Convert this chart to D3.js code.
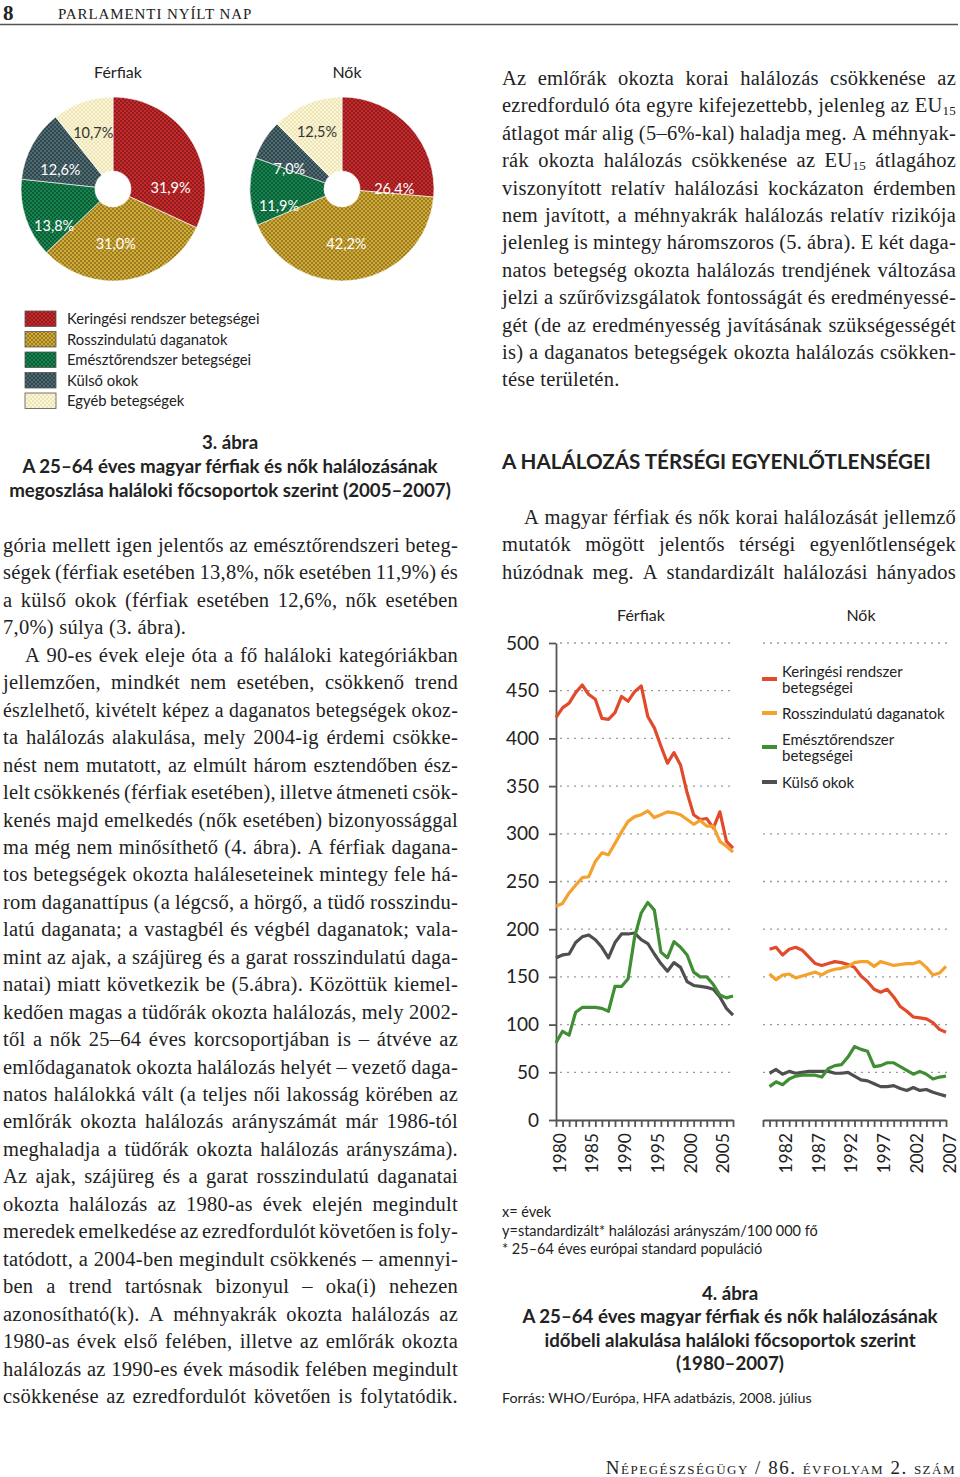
<!DOCTYPE html>
<html>
<head>
<meta charset="utf-8">
<script src="https://cdn.jsdelivr.net/npm/d3@7"></script>
<style>
  html, body { margin: 0; padding: 0; background: #fff; }
  svg { display: block; }
</style>
</head>
<body>
<div id="page"></div>
<script>
// ---- pie data (3. ábra) ----
const pieCategories = ["Keringési rendszer betegségei", "Rosszindulatú daganatok", "Emésztőrendszer betegségei", "Külső okok", "Egyéb betegségek"];
const pieMen = [31.9, 31.0, 13.8, 12.6, 10.7];
const pieWomen = [26.4, 42.2, 11.9, 7.0, 12.5];

// ---- line data (4. ábra), per 100 000 ----
const years = [1980, 1981, 1982, 1983, 1984, 1985, 1986, 1987, 1988, 1989, 1990, 1991, 1992, 1993,
  1994, 1995, 1996, 1997, 1998, 1999, 2000, 2001, 2002, 2003, 2004, 2005, 2006, 2007];
const menCirc = [422, 432, 437, 448, 456, 446, 441, 421, 420, 427, 444, 439, 449, 455, 423, 411, 392, 374, 385, 372, 343, 320, 315, 316, 306, 323, 292, 285];
const menCancer = [224, 227, 238, 246, 254, 255, 271, 280, 278, 290, 302, 313, 318, 320, 324, 317, 320, 323, 322, 320, 315, 310, 314, 308, 308, 292, 287, 281];
const menDigest = [81, 93, 89, 113, 118, 118, 118, 117, 114, 140, 140, 148, 192, 217, 228, 220, 176, 170, 187, 181, 173, 155, 150, 150, 142, 131, 128, 130];
const menExternal = [170, 173, 174, 186, 192, 194, 189, 181, 170, 186, 195, 195, 196, 189, 185, 174, 164, 156, 165, 160, 145, 141, 140, 139, 137, 129, 117, 110];
const womenCirc = [179, 181, 173, 179, 181, 178, 171, 164, 162, 164, 166, 165, 163, 160, 151, 145, 137, 134, 137, 129, 119, 114, 108, 107, 106, 102, 95, 92];
const womenCancer = [153, 147, 152, 153, 149, 151, 153, 155, 152, 156, 158, 159, 161, 165, 166, 166, 161, 166, 164, 162, 163, 164, 164, 166, 160, 152, 154, 161];
const womenDigest = [35, 40, 37, 43, 46, 47, 47, 47, 45, 54, 57, 58, 66, 77, 74, 72, 56, 57, 60, 60, 56, 52, 48, 51, 48, 43, 45, 46];
const womenExternal = [49, 53, 48, 51, 49, 50, 51, 51, 51, 51, 49, 49, 50, 46, 42, 41, 38, 35, 35, 36, 33, 31, 34, 31, 32, 29, 27, 25];

const yTicks = [0, 50, 100, 150, 200, 250, 300, 350, 400, 450, 500];
const menYearLabels = [1980, 1985, 1990, 1995, 2000, 2005];
const womenYearLabels = [1982, 1987, 1992, 1997, 2002, 2007];
const womenAxisYears = [1979].concat(years);
const womenGrid = [50, 100, 150, 200, 250, 300, 500];
const lineLegend = [["Keringési rendszer", "betegségei"], ["Rosszindulatú daganatok"], ["Emésztőrendszer", "betegségei"], ["Külső okok"]];

// ---- page text ----
const leftColumn = [
  "gória mellett igen jelentős az emésztőrendszeri beteg-",
  "ségek (férfiak esetében 13,8%, nők esetében 11,9%) és",
  "a külső okok (férfiak esetében 12,6%, nők esetében",
  "7,0%) súlya (3. ábra).",
  "A 90-es évek eleje óta a fő haláloki kategóriákban",
  "jellemzően, mindkét nem esetében, csökkenő trend",
  "észlelhető, kivételt képez a daganatos betegségek okoz-",
  "ta halálozás alakulása, mely 2004-ig érdemi csökke-",
  "nést nem mutatott, az elmúlt három esztendőben ész-",
  "lelt csökkenés (férfiak esetében), illetve átmeneti csök-",
  "kenés majd emelkedés (nők esetében) bizonyossággal",
  "ma még nem minősíthető (4. ábra). A férfiak dagana-",
  "tos betegségek okozta haláleseteinek mintegy fele há-",
  "rom daganattípus (a légcső, a hörgő, a tüdő rosszindu-",
  "latú daganata; a vastagbél és végbél daganatok; vala-",
  "mint az ajak, a szájüreg és a garat rosszindulatú daga-",
  "natai) miatt következik be (5.ábra). Közöttük kiemel-",
  "kedően magas a tüdőrák okozta halálozás, mely 2002-",
  "től a nők 25–64 éves korcsoportjában is – átvéve az",
  "emlődaganatok okozta halálozás helyét – vezető daga-",
  "natos halálokká vált (a teljes női lakosság körében az",
  "emlőrák okozta halálozás arányszámát már 1986-tól",
  "meghaladja a tüdőrák okozta halálozás arányszáma).",
  "Az ajak, szájüreg és a garat rosszindulatú daganatai",
  "okozta halálozás az 1980-as évek elején megindult",
  "meredek emelkedése az ezredfordulót követően is foly-",
  "tatódott, a 2004-ben megindult csökkenés – amennyi-",
  "ben a trend tartósnak bizonyul – oka(i) nehezen",
  "azonosítható(k). A méhnyakrák okozta halálozás az",
  "1980-as évek első felében, illetve az emlőrák okozta",
  "halálozás az 1990-es évek második felében megindult",
  "csökkenése az ezredfordulót követően is folytatódik."
];
const rightColumn = [
  "Az emlőrák okozta korai halálozás csökkenése az",
  "ezredforduló óta egyre kifejezettebb, jelenleg az EU§15",
  "átlagot már alig (5–6%-kal) haladja meg. A méhnyak-",
  "rák okozta halálozás csökkenése az EU§15§ átlagához",
  "viszonyított relatív halálozási kockázaton érdemben",
  "nem javított, a méhnyakrák halálozás relatív rizikója",
  "jelenleg is mintegy háromszoros (5. ábra). E két daga-",
  "natos betegség okozta halálozás trendjének változása",
  "jelzi a szűrővizsgálatok fontosságát és eredményessé-",
  "gét (de az eredményesség javításának szükségességét",
  "is) a daganatos betegségek okozta halálozás csökken-",
  "tése területén."
];
const introLines = [
  "A magyar férfiak és nők korai halálozását jellemző",
  "mutatók mögött jelentős térségi egyenlőtlenségek",
  "húzódnak meg. A standardizált halálozási hányados"
];

const W = 960, H = 1477;
const sans = "Lato, 'Open Sans', sans-serif";
const serif = "'Liberation Serif', 'DejaVu Serif', serif";

const svg = d3.select("#page").append("svg").attr("width", W).attr("height", H)
  .style("font-family", sans);

// "EU§15" -> EU with a subscript 15
function fillParts(sel, str, state) {
  str.split("§").forEach((part, i) => {
    if (part === "") return;
    const c = sel.append("tspan").text(part);
    if (i % 2 === 1) { c.attr("font-size", 13).attr("dy", 3); state.shifted = true; }
    else if (state.shifted) { c.attr("dy", -3); state.shifted = false; }
  });
}

// width of one word, measured with a throwaway text element
function wordWidth(g, w) {
  const tmp = g.append("text").attr("x", 0).attr("y", -50);
  fillParts(tmp, w, { shifted: false });
  const len = tmp.node().getComputedTextLength();
  tmp.remove();
  return len;
}

// one line of body text; justified lines get every word placed by hand
function textLine(g, str, x, y, width, justify) {
  const t = g.append("text").attr("x", x).attr("y", y);
  if (!justify) {
    fillParts(t, str, { shifted: false });
    return t;
  }
  const words = str.split(" ");
  const widths = words.map((w) => wordWidth(g, w));
  const gap = (width - d3.sum(widths)) / Math.max(1, words.length - 1);
  if (gap < 3) {
    // line is too full: keep normal spaces and squeeze the glyphs a little
    fillParts(t, str, { shifted: false });
    t.attr("textLength", width).attr("lengthAdjust", "spacingAndGlyphs");
    return t;
  }
  const state = { shifted: false };
  let cx = x;
  words.forEach((w, i) => {
    const sp = t.append("tspan").attr("x", cx);
    fillParts(sp, w, state);
    cx += widths[i] + gap;
  });
  return t;
}

// ---- header / footer ----
svg.append("text").attr("x", 3).attr("y", 20).attr("font-family", serif)
  .attr("font-size", 21).attr("font-weight", "bold").attr("fill", "#222").text("8");
svg.append("text").attr("x", 58).attr("y", 19).attr("font-family", serif)
  .attr("font-size", 15).attr("letter-spacing", 0.9)
  .attr("fill", "#222").text("PARLAMENTI NYÍLT NAP");
svg.append("line").attr("x1", 0).attr("x2", 958).attr("y1", 24.5).attr("y2", 24.5)
  .attr("stroke", "#555").attr("stroke-width", 1.6);
svg.append("text").attr("x", 956).attr("y", 1474).attr("text-anchor", "end").attr("font-family", serif)
  .attr("font-size", 19).style("font-variant", "small-caps").attr("letter-spacing", 1.5)
  .attr("fill", "#222").text("Népegészségügy / 86. évfolyam 2. szám");

// ---- pie charts ----
const pieFill = [
  { base: "#c8292b", hatch: "#801a1c" },
  { base: "#d2ab36", hatch: "#8c7020" },
  { base: "#17854f", hatch: "#0b5230" },
  { base: "#4f6b72", hatch: "#2a3e44" },
  { base: "#fbf6d4", hatch: "#d6c98a" }
];
const defs = svg.append("defs");
pieFill.forEach((c, i) => {
  const p = defs.append("pattern").attr("id", "pat" + i).attr("patternUnits", "userSpaceOnUse")
    .attr("width", 4).attr("height", 4);
  p.append("rect").attr("width", 4).attr("height", 4).attr("fill", c.base);
  if (i === 4) {
    p.append("circle").attr("cx", 1).attr("cy", 1).attr("r", 0.7).attr("fill", c.hatch);
    p.append("circle").attr("cx", 3).attr("cy", 3).attr("r", 0.7).attr("fill", c.hatch);
  } else {
    p.append("path").attr("d", "M0,0L4,4M4,0L0,4").attr("stroke", c.hatch).attr("stroke-width", 0.8);
  }
});

const pie = d3.pie().sort(null).value((d) => d);
const arc = d3.arc().innerRadius(18).outerRadius(92);
const labelArc = d3.arc().innerRadius(60).outerRadius(60);
const menNudge = [[7, 31], [-7, -5], [-2, 17], [0, 9], [0, 0]];
const womenNudge = [[8, 40], [-5, -5], [-3, 15], [-2, 12], [-2, -2]];

function drawPie(values, cx, title, nudge) {
  const g = svg.append("g").attr("transform", `translate(${cx},189)`);
  svg.append("text").attr("x", cx + 5).attr("y", 78).attr("text-anchor", "middle")
    .attr("font-size", 16).attr("fill", "#222").text(title);
  const slices = pie(values);
  g.selectAll("path").data(slices).enter().append("path")
    .attr("d", arc)
    .attr("fill", (d, i) => `url(#pat${i})`)
    .attr("stroke", "#fff").attr("stroke-width", 0.6);
  g.selectAll("text").data(slices).enter().append("text")
    .attr("transform", (d, i) => {
      const c = labelArc.centroid(d);
      return `translate(${c[0] + nudge[i][0]},${c[1] + nudge[i][1]})`;
    })
    .attr("text-anchor", "middle").attr("dominant-baseline", "central")
    .attr("font-size", 14.5)
    .attr("fill", (d, i) => (i === 4 ? "#333" : "#fff"))
    .text((d) => d3.format(".1f")(d.data).replace(".", ",") + "%");
}
drawPie(pieMen, 113, "Férfiak", menNudge);
drawPie(pieWomen, 342, "Nők", womenNudge);

const pieLegend = svg.append("g");
pieCategories.forEach((name, i) => {
  const y = 311 + i * 20.5;
  pieLegend.append("rect").attr("x", 25).attr("y", y).attr("width", 31).attr("height", 15.5)
    .attr("fill", `url(#pat${i})`).attr("stroke", "#555").attr("stroke-width", 0.8);
  pieLegend.append("text").attr("x", 67).attr("y", y + 13).attr("font-size", 14.8)
    .attr("fill", "#222").text(name);
});

// caption 3. ábra
const cap3 = ["3. ábra", "A 25–64 éves magyar férfiak és nők halálozásának", "megoszlása haláloki főcsoportok szerint (2005–2007)"];
cap3.forEach((s, i) => {
  svg.append("text").attr("x", 230).attr("y", 449 + i * 24).attr("text-anchor", "middle")
    .attr("font-size", 18.7).attr("font-weight", "bold").attr("fill", "#222").text(s);
});

// ---- body text ----
const body = svg.append("g").attr("font-family", serif).attr("font-size", 20.5)
  .attr("letter-spacing", 0.25).attr("fill", "#222");
leftColumn.forEach((s, i) => {
  const indent = i === 4 ? 22 : 0;
  textLine(body, s, 3 + indent, 552 + i * 27.45, 455 - indent, i !== 3);
});
rightColumn.forEach((s, i) => {
  textLine(body, s, 502, 85 + i * 27.4, 454, i !== rightColumn.length - 1);
});
introLines.forEach((s, i) => {
  const indent = i === 0 ? 22 : 0;
  textLine(body, s, 502 + indent, 524 + i * 27.4, 454 - indent, true);
});
svg.append("text").attr("x", 502).attr("y", 469).attr("font-size", 20.6).attr("font-weight", "bold")
  .attr("fill", "#222").text("A HALÁLOZÁS TÉRSÉGI EGYENLŐTLENSÉGEI");

// ---- line charts (4. ábra) ----
const y = d3.scaleLinear().domain([0, 500]).range([1120, 643]);
const xMen = d3.scaleLinear().domain([1980, 2007]).range([556, 733]);
const xWomen = d3.scaleLinear().domain([1979, 2007]).range([763, 946]);
const lineColors = ["#e14a2a", "#f4a12e", "#3f8e34", "#4f4f4f"];
const chart = svg.append("g");

// gridlines
chart.selectAll(".gm").data(yTicks.slice(1)).enter().append("line")
  .attr("x1", 560).attr("x2", 735).attr("y1", (d) => y(d)).attr("y2", (d) => y(d))
  .attr("stroke", "#9a9a9a").attr("stroke-width", 1.3).attr("stroke-dasharray", "2,5");
chart.selectAll(".gw").data(womenGrid).enter().append("line")
  .attr("x1", 763).attr("x2", 950).attr("y1", (d) => y(d)).attr("y2", (d) => y(d))
  .attr("stroke", "#9a9a9a").attr("stroke-width", 1.3).attr("stroke-dasharray", "2,5");

// axes
const yAxis = chart.append("g").attr("transform", "translate(556,0)")
  .call(d3.axisLeft(y).tickValues(yTicks).tickSize(7).tickSizeOuter(0).tickPadding(10));
yAxis.selectAll("text").attr("font-size", 19).attr("font-family", sans).attr("fill", "#222");

function xAxis(scale, tickYears, labelYears) {
  const g = chart.append("g").attr("transform", "translate(0,1120)")
    .call(d3.axisBottom(scale).tickValues(tickYears).tickSize(7).tickSizeOuter(0).tickFormat(""));
  g.selectAll("text").remove();
  chart.selectAll(null).data(labelYears).enter().append("text")
    .attr("transform", (d) => `translate(${scale(d) + 3},1133) rotate(-90)`)
    .attr("text-anchor", "end").attr("dominant-baseline", "central")
    .attr("font-size", 17.5).attr("fill", "#222").text((d) => d);
  return g;
}
xAxis(xMen, years, menYearLabels);
xAxis(xWomen, womenAxisYears, womenYearLabels);
chart.selectAll(".domain, .tick line").attr("stroke", "#555").attr("stroke-width", 1.8);

// lines
function drawLines(scale, seriesList) {
  const line = d3.line().x((d, i) => scale(years[i])).y((d) => y(d));
  seriesList.forEach((s) => {
    chart.append("path").datum(s.values).attr("fill", "none")
      .attr("stroke", s.color).attr("stroke-width", 3.2)
      .attr("stroke-linejoin", "round").attr("d", line);
  });
}
drawLines(xMen, [
  { values: menCirc, color: lineColors[0] },
  { values: menCancer, color: lineColors[1] },
  { values: menExternal, color: lineColors[3] },
  { values: menDigest, color: lineColors[2] }
]);
drawLines(xWomen, [
  { values: womenCirc, color: lineColors[0] },
  { values: womenCancer, color: lineColors[1] },
  { values: womenExternal, color: lineColors[3] },
  { values: womenDigest, color: lineColors[2] }
]);

chart.append("text").attr("x", 641).attr("y", 621).attr("text-anchor", "middle")
  .attr("font-size", 16).attr("fill", "#222").text("Férfiak");
chart.append("text").attr("x", 861).attr("y", 621).attr("text-anchor", "middle")
  .attr("font-size", 16).attr("fill", "#222").text("Nők");

// line legend
const legendY = [679, 713, 747, 782];
lineLegend.forEach((rows, i) => {
  chart.append("line").attr("x1", 762).attr("x2", 777).attr("y1", legendY[i]).attr("y2", legendY[i])
    .attr("stroke", lineColors[i]).attr("stroke-width", 4);
  const top = legendY[i] - (rows.length - 1) * 8;
  rows.forEach((r, j) => {
    chart.append("text").attr("x", 782).attr("y", top + j * 16).attr("dominant-baseline", "central")
      .attr("font-size", 15).attr("fill", "#222").text(r);
  });
});

// notes and caption 4. ábra
const notes = ["x= évek", "y=standardizált* halálozási arányszám/100 000 fő", "* 25–64 éves európai standard populáció"];
notes.forEach((s, i) => {
  svg.append("text").attr("x", 502).attr("y", 1217 + i * 18.5).attr("font-size", 14.5)
    .attr("fill", "#222").text(s);
});
const cap4 = ["4. ábra", "A 25–64 éves magyar férfiak és nők halálozásának", "időbeli alakulása haláloki főcsoportok szerint", "(1980–2007)"];
cap4.forEach((s, i) => {
  svg.append("text").attr("x", 730).attr("y", 1300 + i * 23.4).attr("text-anchor", "middle")
    .attr("font-size", 18.7).attr("font-weight", "bold").attr("fill", "#222").text(s);
});
svg.append("text").attr("x", 502).attr("y", 1403).attr("font-size", 14.3).attr("fill", "#222")
  .text("Forrás: WHO/Európa, HFA adatbázis, 2008. július");
</script>
</body>
</html>
